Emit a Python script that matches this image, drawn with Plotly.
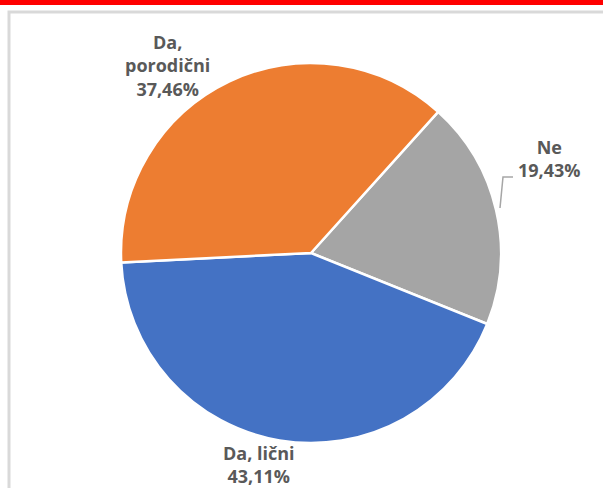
import plotly.graph_objects as go

# Survey answers and their shares (percent)
categories = ["Ne", "Da, lični", "Da, porodični"]
label_lines = ["Ne", "Da, lični", "Da,<br>porodični"]
shares = [19.43, 43.11, 37.46]
colors = ["#A5A5A5", "#4472C4", "#ED7D31"]

W, H = 603, 488
cx, cy, r = 311, 253, 190

fig = go.Figure(
    go.Pie(
        labels=categories,
        values=shares,
        sort=False,
        direction="clockwise",
        rotation=42,
        marker=dict(colors=colors, line=dict(color="white", width=2.5)),
        textinfo="none",
        hoverinfo="label+percent",
        showlegend=False,
        domain=dict(
            x=[(cx - r) / W, (cx + r) / W],
            y=[(H - cy - r) / H, (H - cy + r) / H],
        ),
    )
)

# Data labels placed outside the slices
label_pos = {"Ne": (549, 158), "Da, lični": (259, 464), "Da, porodični": (167, 65)}
for cat, lines, val in zip(categories, label_lines, shares):
    x, y = label_pos[cat]
    txt = f"<b>{lines}<br>{val:.2f}%</b>".replace(".", ",")
    fig.add_annotation(
        x=x / W, y=1 - y / H, xref="paper", yref="paper",
        text=txt, showarrow=False, align="center",
        xanchor="center", yanchor="middle",
        font=dict(family="Open Sans", size=18, color="#595959"),
    )

shapes = [
    # red strip along the top edge
    dict(type="rect", xref="paper", yref="paper", x0=0, x1=1,
         y0=1 - 5 / H, y1=1.01, fillcolor="#FF0000", line=dict(width=0), layer="below"),
    # light grey chart frame
    dict(type="rect", xref="paper", yref="paper", x0=9 / W, x1=1.05,
         y0=-0.05, y1=1 - 12 / H, fillcolor="rgba(0,0,0,0)",
         line=dict(color="#D9D9D9", width=3), layer="below"),
    # leader line for the "Ne" label
    dict(type="path", xref="paper", yref="paper",
         path=f"M {500 / W} {1 - 208 / H} L {503 / W} {1 - 177 / H} L {513 / W} {1 - 177 / H}",
         line=dict(color="#A6A6A6", width=1.5)),
]

fig.update_layout(
    width=W, height=H,
    margin=dict(l=0, r=0, t=0, b=0),
    paper_bgcolor="white",
    plot_bgcolor="white",
    shapes=shapes,
)

fig.write_html("out.html")
